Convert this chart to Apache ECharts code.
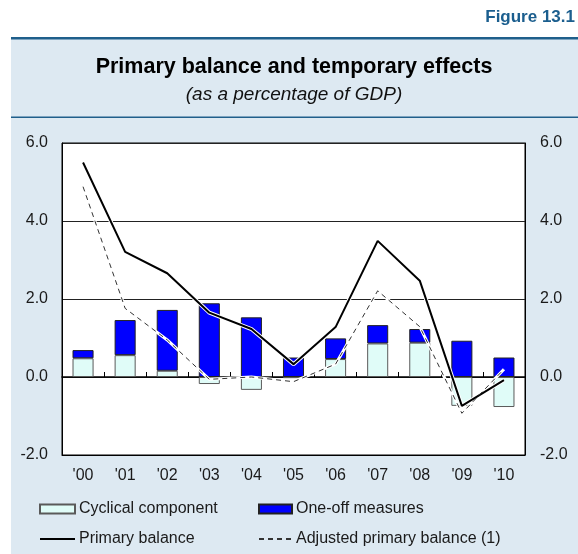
<!DOCTYPE html>
<html>
<head>
<meta charset="utf-8">
<script src="https://cdn.jsdelivr.net/npm/echarts@6/dist/echarts.min.js"></script>
<style>
  html, body {margin: 0; padding: 0; background: #fff;}
  #chart {width: 578px; height: 554px;}
</style>
</head>
<body>
<div id="chart"></div>
<script>
const years = ["'00", "'01", "'02", "'03", "'04", "'05", "'06", "'07", "'08", "'09", "'10"];
const cyclical = [0.48, 0.56, 0.16, -0.18, -0.33, -0.03, 0.46, 0.86, 0.88, -0.74, -0.77];
const oneOff = [0.21, 0.90, 1.56, 1.89, 1.53, 0.50, 0.53, 0.47, 0.35, 0.93, 0.50];
const primary = [5.5, 3.21, 2.66, 1.65, 1.23, 0.33, 1.28, 3.49, 2.47, -0.74, -0.08];
const adjusted = [4.88, 1.76, 0.95, -0.06, 0.0, -0.12, 0.33, 2.21, 1.29, -0.93, 0.2];

const font = 'Liberation Sans, Arial, sans-serif';
const chart = echarts.init(document.getElementById('chart'));

const yAxisBase = {
  type: 'value',
  min: -2,
  max: 6,
  interval: 2,
  axisTick: {show: false},
  axisLine: {show: true, lineStyle: {color: '#000', width: 1}},
  axisLabel: {
    fontSize: 16, fontFamily: font, color: '#1a1a1a', margin: 14,
    formatter: v => v.toFixed(1)
  }
};

const legendText = {fontSize: 16, fontFamily: font, color: '#1a1a1a', lineHeight: 16, padding: [0, 0, 0, -1]};
// line entries in the legend: no marker dot, just the stroke
const noDot = {opacity: 0};

chart.setOption({
  animation: false,
  graphic: [
    {type: 'rect', z: -10, shape: {x: 11, y: 39, width: 567, height: 515}, style: {fill: '#dde9f2'}},
    {type: 'rect', z: -9, shape: {x: 11, y: 37, width: 567, height: 2.5}, style: {fill: '#1f5f8b'}},
    {type: 'rect', z: -9, shape: {x: 11, y: 116.5, width: 567, height: 1.5}, style: {fill: '#1f5f8b'}}
  ],
  title: [
    {
      text: 'Figure 13.1', right: 3, top: 9, padding: 0,
      textStyle: {fontSize: 17, fontWeight: 'bold', fontFamily: font, color: '#1b5e8e'}
    },
    {
      text: 'Primary balance and temporary effects', left: 294, top: 56, padding: 0, textAlign: 'center',
      textStyle: {fontSize: 21.5, fontWeight: 'bold', fontFamily: font, color: '#000'}
    },
    {
      text: '(as a percentage of GDP)', left: 294, top: 85, padding: 0, textAlign: 'center',
      textStyle: {fontSize: 19, fontStyle: 'italic', fontWeight: 'normal', fontFamily: font, color: '#111'}
    }
  ],
  legend: [
    {
      orient: 'vertical', left: 39, top: 501, padding: 0, itemGap: 14,
      itemWidth: 35, itemHeight: 9, textStyle: legendText,
      data: [
        {name: 'Cyclical component', icon: 'rect'},
        {name: 'Primary balance', itemStyle: noDot}
      ]
    },
    {
      orient: 'vertical', left: 258, top: 501, padding: 0, itemGap: 14,
      itemWidth: 33, itemHeight: 9, textStyle: legendText,
      data: [
        {name: 'One-off measures', icon: 'rect'},
        {name: 'Adjusted primary balance (1)', itemStyle: noDot}
      ]
    }
  ],
  grid: {
    left: 62, top: 143, width: 463, height: 312,
    show: true, backgroundColor: '#fff', borderColor: '#000', borderWidth: 1
  },
  xAxis: [
    {
      type: 'category', data: years, position: 'bottom',
      axisLine: {onZero: false, lineStyle: {color: '#000'}},
      axisTick: {show: false},
      axisLabel: {fontSize: 16, fontFamily: font, color: '#1a1a1a', margin: 13}
    },
    {
      type: 'category', data: years, position: 'top',
      axisLine: {onZero: true, lineStyle: {color: '#000', width: 1.5}},
      axisTick: {show: true, inside: false, length: 5, lineStyle: {color: '#000'}},
      axisLabel: {show: false}
    }
  ],
  yAxis: [
    Object.assign({}, yAxisBase, {
      position: 'left',
      splitLine: {show: true, lineStyle: {color: '#222', width: 1}}
    }),
    Object.assign({}, yAxisBase, {
      position: 'right',
      splitLine: {show: false},
      axisLabel: Object.assign({}, yAxisBase.axisLabel, {margin: 15})
    })
  ],
  series: [
    {
      name: 'Cyclical component', type: 'bar', stack: 'temp', barWidth: '50%',
      data: cyclical,
      itemStyle: {color: '#e0fcf8', borderColor: '#5a5a5a', borderWidth: 1}
    },
    {
      name: 'One-off measures', type: 'bar', stack: 'temp', barWidth: '50%',
      data: oneOff,
      itemStyle: {color: '#0000ff', borderColor: '#222', borderWidth: 1}
    },
    {
      name: 'halo-primary', type: 'line', data: primary, symbol: 'none', silent: true,
      lineStyle: {color: '#fff', width: 4}
    },
    {
      name: 'halo-adjusted', type: 'line', data: adjusted, symbol: 'none', silent: true,
      lineStyle: {color: '#fff', width: 3}
    },
    {
      name: 'Primary balance', type: 'line', data: primary, symbol: 'none',
      lineStyle: {color: '#000', width: 2}, itemStyle: {color: '#000'}
    },
    {
      name: 'Adjusted primary balance (1)', type: 'line', data: adjusted, symbol: 'none',
      lineStyle: {color: '#333', width: 1, type: [5, 4]}, itemStyle: {color: '#333'}
    }
  ]
});
</script>
</body>
</html>
